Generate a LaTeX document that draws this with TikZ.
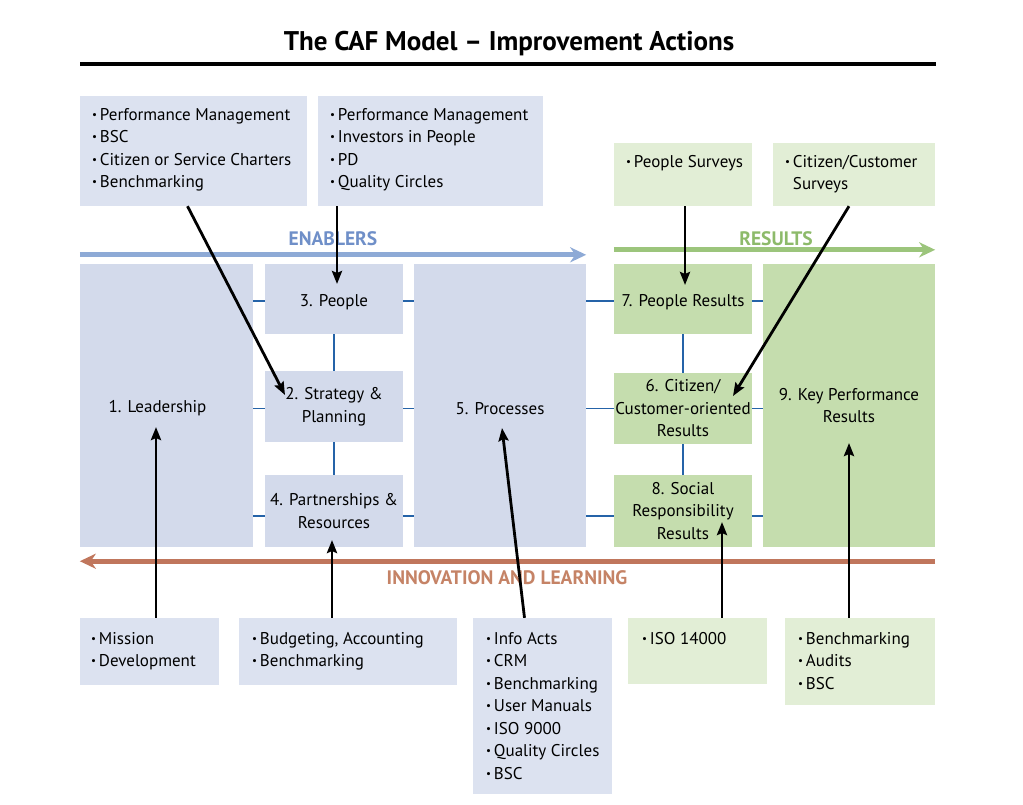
\documentclass[tikz,border=0pt]{standalone}
\usepackage{fontspec}
\setmainfont{PT Sans}
\usetikzlibrary{arrows.meta, positioning, calc}
\definecolor{CAFblue}{HTML}{D3DAEB}
\definecolor{CAFtoolblue}{HTML}{DCE2F0}
\definecolor{CAFgreen}{HTML}{C5DDAE}
\definecolor{CAFtoolgreen}{HTML}{E2EED6}
\definecolor{CAFlink}{HTML}{2563A8}
\definecolor{CAFenab}{HTML}{8EAAD6}
\definecolor{CAFenabtext}{HTML}{6F8FC8}
\definecolor{CAFres}{HTML}{9CC57C}
\definecolor{CAFrestext}{HTML}{8DBA6A}
\definecolor{CAFinno}{HTML}{C0765C}
\definecolor{CAFinnotext}{HTML}{C58366}
\newcommand{\itm}{\raisebox{1.7pt}{\fontsize{11}{11}\selectfont\textbullet}\hspace{3pt}}
\newcommand{\nitm}{\phantom{\itm}}
\tikzset{
  crit/.style={inner sep=0pt, align=center, font=\fontsize{17}{22.5}\selectfont,
    execute at begin node={\rule{0pt}{18pt}}},
  enabbox/.style={crit, fill=CAFblue},
  resbox/.style={crit, fill=CAFgreen},
  toolblue/.style={inner sep=0pt, fill=CAFtoolblue},
  toolgreen/.style={inner sep=0pt, fill=CAFtoolgreen},
  tooltext/.style={anchor=north west, inner sep=0pt, align=left, font=\fontsize{17}{22.5}\selectfont},
  link/.style={CAFlink, line width=1.8pt},
  act/.style={line width=2.8pt, -{Stealth[length=13pt,width=10pt,inset=2pt]}},
  phase/.style={line width=5pt, -{Stealth[length=16pt,width=15pt,inset=5pt]}},
  phasetext/.style={font=\fontsize{19.5}{19.5}\selectfont\bfseries}
}
\begin{document}
\begin{tikzpicture}[x=1pt, y=-1pt]
  \useasboundingbox (0,0) rectangle (1023,804);
  % Title and rule
  \node[font=\fontsize{27}{27}\selectfont\bfseries] (title) at (509,44) {The CAF Model -- Improvement Actions};
  \draw[line width=4pt] (80,64) -- (936,64);

  % Upper improvement tools
  \node[toolblue, minimum width=227pt, minimum height=110pt] (strattools) at (193.5,151) {};
  \node[tooltext] (strattoolstext) at ([shift={(12,12)}]strattools.north west)
    {\itm Performance Management\\ \itm BSC\\ \itm Citizen or Service Charters\\ \itm Benchmarking};
  \node[toolblue, minimum width=225pt, minimum height=110pt] (peopletools) at (430.5,151) {};
  \node[tooltext] (peopletoolstext) at ([shift={(12,12)}]peopletools.north west)
    {\itm Performance Management\\ \itm Investors in People\\ \itm PD\\ \itm Quality Circles};
  \node[toolgreen, minimum width=138pt, minimum height=63pt] (psurvey) at (683,174.5) {};
  \node[tooltext] (psurveytext) at ([shift={(12,12)}]psurvey.north west) {\itm People Surveys};
  \node[toolgreen, minimum width=162pt, minimum height=63pt] (csurvey) at (854,174.5) {};
  \node[tooltext] (csurveytext) at ([shift={(12,12)}]csurvey.north west) {\itm Citizen/Customer\\ \nitm Surveys};

  % Criteria
  \node[enabbox, minimum width=173pt, minimum height=283pt] (lead) at (166.5,405.5) {1. Leadership\hspace*{18pt}};
  \node[enabbox, minimum width=138pt, minimum height=70pt] (people) at (334,299) {3. People};
  \node[enabbox, minimum width=138pt, minimum height=71pt] (strat) at (334,406.5) {2. Strategy \&\\ Planning};
  \node[enabbox, minimum width=138pt, minimum height=72pt] (partner) at (334,511) {4. Partnerships \&\\ Resources};
  \node[enabbox, minimum width=172pt, minimum height=283pt] (proc) at (500,405.5) {5. Processes};
  \node[resbox, minimum width=138pt, minimum height=70pt] (peopleres) at (683,299) {7. People Results};
  \node[resbox, minimum width=138pt, minimum height=71pt] (citres) at (683,408.5) {6. Citizen/\\ Customer-oriented\\ Results};
  \node[resbox, minimum width=138pt, minimum height=72pt] (socres) at (683,511) {8. Social\\ Responsibility\\ Results};
  \node[resbox, minimum width=172pt, minimum height=283pt] (keyres) at (849,405.5) {9. Key Performance\\ Results};

  % Links between criteria
  \draw[link] ([yshift=-2pt]people.west -| lead.east) -- ([yshift=-2pt]people.west);
  \draw[link] ([yshift=-2pt]strat.west -| lead.east) -- ([yshift=-2pt]strat.west);
  \draw[link] ([yshift=-5pt]partner.west -| lead.east) -- ([yshift=-5pt]partner.west);
  \draw[link] ([yshift=-2pt]people.east) -- ([yshift=-2pt]people.east -| proc.west);
  \draw[link] ([yshift=-2pt]strat.east) -- ([yshift=-2pt]strat.east -| proc.west);
  \draw[link] ([yshift=-5pt]partner.east) -- ([yshift=-5pt]partner.east -| proc.west);
  \draw[link] ([yshift=-2pt]peopleres.west -| proc.east) -- ([yshift=-2pt]peopleres.west);
  \draw[link] (citres.west -| proc.east) -- (citres.west);
  \draw[link] ([yshift=-5pt]socres.west -| proc.east) -- ([yshift=-5pt]socres.west);
  \draw[link] ([yshift=-2pt]peopleres.east) -- ([yshift=-2pt]peopleres.east -| keyres.west);
  \draw[link] (citres.east) -- (citres.east -| keyres.west);
  \draw[link] ([yshift=-5pt]socres.east) -- ([yshift=-5pt]socres.east -| keyres.west);
  \draw[link] (people.south) -- (strat.north);
  \draw[link] (strat.south) -- (partner.north);
  \draw[link] (peopleres.south) -- (citres.north);
  \draw[link] (citres.south) -- (socres.north);

  % Enablers, results, innovation and learning
  \draw[phase, CAFenab] ([yshift=9pt]lead.north west) -- ([yshift=9pt]proc.north east);
  \node[phasetext, text=CAFenabtext] (enab) at (333,239) {ENABLERS};
  \draw[phase, CAFres] ([yshift=14pt]peopleres.north west) -- ([yshift=14pt]keyres.north east);
  \node[phasetext, text=CAFrestext] (res) at (776,239) {RESULTS};
  \draw[phase, CAFinno] ([yshift=-14pt]keyres.south east) -- ([yshift=-14pt]lead.south west);
  \node[phasetext, text=CAFinnotext] (inno) at (507,578) {INNOVATION AND LEARNING};

  % Lower improvement tools
  \node[toolblue, minimum width=139pt, minimum height=67pt] (leadtools) at (149.5,651.5) {};
  \node[tooltext] (leadtoolstext) at ([shift={(11,14)}]leadtools.north west) {\itm Mission\\ \itm Development};
  \node[toolblue, minimum width=218pt, minimum height=67pt] (partnertools) at (348,651.5) {};
  \node[tooltext] (partnertoolstext) at ([shift={(13,14)}]partnertools.north west) {\itm Budgeting, Accounting\\ \itm Benchmarking};
  \node[toolblue, minimum width=139pt, minimum height=176pt] (proctools) at (542.5,706) {};
  \node[tooltext] (proctoolstext) at ([shift={(13,14)}]proctools.north west)
    {\itm Info Acts\\ \itm CRM\\ \itm Benchmarking\\ \itm User Manuals\\ \itm ISO 9000\\ \itm Quality Circles\\ \itm BSC};
  \node[toolgreen, minimum width=139pt, minimum height=66pt] (soctools) at (697.5,651) {};
  \node[tooltext] (soctoolstext) at ([shift={(14,14)}]soctools.north west) {\itm ISO 14000};
  \node[toolgreen, minimum width=150pt, minimum height=87pt] (keytools) at (860,661.5) {};
  \node[tooltext] (keytoolstext) at ([shift={(13,14)}]keytools.north west) {\itm Benchmarking\\ \itm Audits\\ \itm BSC};

  % Arrow tips inside the criteria
  \coordinate (strat-in) at (285,395);
  \coordinate (people-in) at (337,284);
  \coordinate (peopleres-in) at (685,285);
  \coordinate (citres-in) at (733,396);
  \coordinate (lead-in) at (156,427);
  \coordinate (partner-in) at (332,540);
  \coordinate (proc-in) at (502,428);
  \coordinate (socres-in) at (722,522);
  \coordinate (keyres-in) at (849,443);

  % Improvement actions
  \draw[act] ([xshift=-6pt]strattools.south) -- (strat-in);
  \draw[act] (peopletools.south -| people-in) -- (people-in);
  \draw[act] (psurvey.south -| peopleres-in) -- (peopleres-in);
  \draw[act] ([xshift=-5pt]csurvey.south) -- (citres-in);
  \draw[act] (leadtools.north -| lead-in) -- (lead-in);
  \draw[act] (partnertools.north -| partner-in) -- (partner-in);
  \draw[act] ([xshift=-18pt]proctools.north) -- (proc-in);
  \draw[act] (soctools.north -| socres-in) -- (socres-in);
  \draw[act] (keytools.north -| keyres-in) -- (keyres-in);
\end{tikzpicture}
\end{document}
